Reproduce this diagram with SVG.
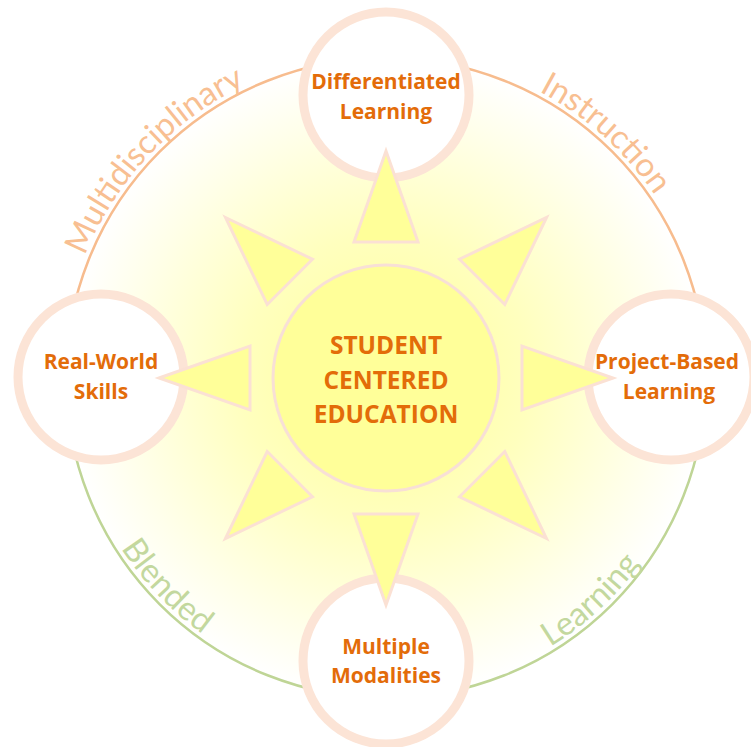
<svg xmlns="http://www.w3.org/2000/svg" width="751" height="747" viewBox="0 0 751 747">
<style>
.node-ring{fill:#ffffff;stroke:#FCE4D6;stroke-width:9}
.ray{fill:#FFFF99;stroke:#FBE1D4;stroke-width:3;stroke-linejoin:miter}
.lbl{font-family:"Open Sans","Liberation Sans",sans-serif;font-weight:bold;fill:#E36C09;text-anchor:middle}
.arc-txt{font-family:Lato,"Open Sans",sans-serif;font-size:33px;text-anchor:middle}
</style>
<defs>
<radialGradient id="glow" gradientUnits="userSpaceOnUse" cx="386" cy="378" r="320">
<stop offset="0" stop-color="#FFFF99"/>
<stop offset="0.45" stop-color="#FFFFBE"/>
<stop offset="0.8" stop-color="#FFFFE8"/>
<stop offset="1" stop-color="#FFFFFF"/>
</radialGradient>
<path id="topArc" d="M61,378 A325,325 0 0 1 711,378"/>
<path id="botArc" d="M71,378 A315,315 0 0 0 701,378"/>
</defs>
<rect width="751" height="747" fill="#ffffff"/>
<g id="ring">
<circle cx="386" cy="378" r="320" fill="url(#glow)"/>
<path d="M66,378 A320,320 0 0 1 706,378" fill="none" stroke="#F7BC8E" stroke-width="2.5"/>
<path d="M66,378 A320,320 0 0 0 706,378" fill="none" stroke="#BFD596" stroke-width="2.5"/>
<text class="arc-txt" fill="#F8BF92"><textPath href="#topArc" startOffset="24%">Multidisciplinary</textPath></text>
<text class="arc-txt" fill="#F8BF92"><textPath href="#topArc" startOffset="73.3%">Instruction</textPath></text>
<text class="arc-txt" fill="#C3D89E"><textPath href="#botArc" startOffset="24.2%">Blended</textPath></text>
<text class="arc-txt" fill="#C3D89E"><textPath href="#botArc" startOffset="73.7%">Learning</textPath></text>
</g>
<g id="node-top"><circle class="node-ring" cx="386" cy="95" r="83"/></g>
<g id="node-left"><circle class="node-ring" cx="101" cy="377" r="83"/></g>
<g id="node-right"><circle class="node-ring" cx="671" cy="377" r="83"/></g>
<g id="node-bottom"><circle class="node-ring" cx="386" cy="661" r="83"/></g>
<g id="connectors">
<g transform="translate(386,378)">
<polygon class="ray" points="0,-227 32,-136 -32,-136"/>
<polygon class="ray" points="0,-227 32,-136 -32,-136" transform="rotate(45)"/>
<polygon class="ray" points="0,-227 32,-136 -32,-136" transform="rotate(90)"/>
<polygon class="ray" points="0,-227 32,-136 -32,-136" transform="rotate(135)"/>
<polygon class="ray" points="0,-227 32,-136 -32,-136" transform="rotate(180)"/>
<polygon class="ray" points="0,-227 32,-136 -32,-136" transform="rotate(225)"/>
<polygon class="ray" points="0,-227 32,-136 -32,-136" transform="rotate(270)"/>
<polygon class="ray" points="0,-227 32,-136 -32,-136" transform="rotate(315)"/>
</g>
</g>
<g id="center">
<circle cx="386" cy="378" r="113" fill="#FFFF99" stroke="#F8E0D6" stroke-width="3"/>
<text class="lbl" font-size="24.5" x="386" y="354">STUDENT</text>
<text class="lbl" font-size="24.5" x="386" y="389">CENTERED</text>
<text class="lbl" font-size="24.5" x="386" y="423">EDUCATION</text>
</g>
<g id="labels">
<text class="lbl" font-size="21" x="386" y="89">Differentiated</text>
<text class="lbl" font-size="21" x="386" y="119">Learning</text>
<text class="lbl" font-size="21" x="101" y="369">Real-World</text>
<text class="lbl" font-size="21" x="101" y="399">Skills</text>
<text class="lbl" font-size="21" x="667" y="369">Project-Based</text>
<text class="lbl" font-size="21" x="669" y="399">Learning</text>
<text class="lbl" font-size="21" x="386" y="654">Multiple</text>
<text class="lbl" font-size="21" x="386" y="683">Modalities</text>
</g>
</svg>
